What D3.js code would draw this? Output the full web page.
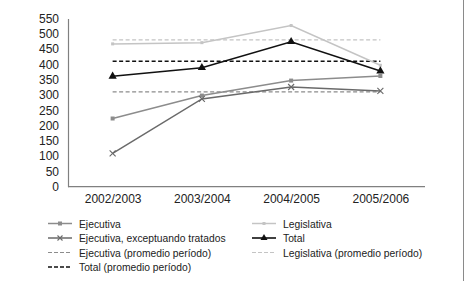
<!DOCTYPE html>
<html><head><meta charset="utf-8">
<script src="https://cdn.jsdelivr.net/npm/d3@7/dist/d3.min.js"></script>
<style>body{margin:0;background:#fff;}svg{display:block;font-family:"Liberation Sans",Arial,sans-serif;}</style>
</head><body><svg id="c" width="466" height="281"></svg>
<script>
const categories = ["2002/2003","2003/2004","2004/2005","2005/2006"];
const ejecutiva = [223, 298, 347, 362];
const legislativa = [467, 471, 527, 397];
const ejecExcept = [109, 287, 326, 313];
const total = [361, 389, 474, 378];
const ejecutivaAvg = 310;
const legislativaAvg = 480;
const totalAvg = 410;
const yTicks = [0,50,100,150,200,250,300,350,400,450,500,550];

(function(){
const svg = d3.select("#c");
const mLeft = 68, mRight = 425, mTop = 18.5, mBottom = 186.7;
const x = d3.scalePoint().domain(categories).range([mLeft, mRight]).padding(0.5);
const y = d3.scaleLinear().domain([0,550]).range([mBottom, mTop]);

svg.append("line").attr("x1",463.5).attr("x2",463.5).attr("y1",0).attr("y2",281).attr("stroke","#8a8a8a").attr("stroke-width",1);

const yAxis = svg.append("g").attr("transform",`translate(${mLeft},0)`).call(d3.axisLeft(y).tickValues(yTicks).tickSize(0).tickPadding(9));
yAxis.select(".domain").attr("stroke","#808080").attr("stroke-width",1.2);
yAxis.selectAll("text").attr("font-size",12).attr("fill","#222").attr("font-family","Liberation Sans, Arial, sans-serif");
const xAxis = svg.append("g").attr("transform",`translate(0,${mBottom})`).call(d3.axisBottom(x).tickSize(0).tickPadding(8));
xAxis.select(".domain").attr("stroke","#808080").attr("stroke-width",1.2).attr("d",`M${mLeft},0H${mRight}`);
xAxis.selectAll("text").attr("font-size",12).attr("fill","#222").attr("font-family","Liberation Sans, Arial, sans-serif");

const avgs = [
  {v: ejecutivaAvg, c:"#8c8c8c", w:1.3},
  {v: legislativaAvg, c:"#c4c4c4", w:1.3},
  {v: totalAvg, c:"#111", w:1.6}
];
avgs.forEach(a=>{
  svg.append("line").attr("x1",x(categories[0])).attr("x2",x(categories[categories.length-1]))
    .attr("y1",y(a.v)).attr("y2",y(a.v)).attr("stroke",a.c).attr("stroke-width",a.w).attr("stroke-dasharray","4,2.5");
});

const line = d3.line().x((d,i)=>x(categories[i])).y(d=>y(d));
const series = [
  {vals: legislativa, c:"#c4c4c4", w:1.5, m:"square", ms:3},
  {vals: ejecutiva, c:"#8c8c8c", w:1.5, m:"square", ms:4},
  {vals: ejecExcept, c:"#6a6a6a", w:1.5, m:"x", ms:6},
  {vals: total, c:"#111", w:1.6, m:"tri", ms:7}
];
function marker(g, type, cx, cy, s, c){
  if(type==="square") g.append("rect").attr("x",cx-s/2).attr("y",cy-s/2).attr("width",s).attr("height",s).attr("fill",c);
  else if(type==="x") g.append("path").attr("d",`M${cx-s/2},${cy-s/2}L${cx+s/2},${cy+s/2}M${cx-s/2},${cy+s/2}L${cx+s/2},${cy-s/2}`).attr("stroke",c).attr("stroke-width",1.1);
  else if(type==="tri") g.append("path").attr("d",d3.symbol().type(d3.symbolTriangle).size(s*s*0.6)()).attr("transform",`translate(${cx},${cy})`).attr("fill",c);
}
series.forEach(s=>{
  svg.append("path").datum(s.vals).attr("d",line).attr("fill","none").attr("stroke",s.c).attr("stroke-width",s.w);
  const g = svg.append("g");
  s.vals.forEach((v,i)=>marker(g,s.m,x(categories[i]),y(v),s.ms,s.c));
});

const legend = [
  {t:"Ejecutiva", col:0, row:0, c:"#8c8c8c", dash:null, m:"square", ms:4, w:1.5},
  {t:"Legislativa", col:1, row:0, c:"#c4c4c4", dash:null, m:"square", ms:3, w:1.5},
  {t:"Ejecutiva, exceptuando tratados", col:0, row:1, c:"#6a6a6a", dash:null, m:"x", ms:5, w:1.5},
  {t:"Total", col:1, row:1, c:"#111", dash:null, m:"tri", ms:6, w:1.6},
  {t:"Ejecutiva (promedio período)", col:0, row:2, c:"#8c8c8c", dash:"4,2", m:null, w:1.2},
  {t:"Legislativa (promedio período)", col:1, row:2, c:"#c4c4c4", dash:"4,2", m:null, w:1.2},
  {t:"Total (promedio período)", col:0, row:3, c:"#111", dash:"4,2", m:null, w:1.6}
];
const colX = [48, 252], rowY = [223.5, 238, 252.5, 267];
legend.forEach(l=>{
  const x0 = colX[l.col], yy = rowY[l.row];
  const g = svg.append("g");
  g.append("line").attr("x1",x0).attr("x2",x0+24).attr("y1",yy).attr("y2",yy).attr("stroke",l.c).attr("stroke-width",l.w).attr("stroke-dasharray",l.dash);
  if(l.m) marker(g,l.m,x0+12,yy,l.ms,l.c);
  g.append("text").attr("x",x0+31).attr("y",yy+4).attr("font-size",10.3).attr("fill","#222").text(l.t);
});
})();
</script></body></html>
